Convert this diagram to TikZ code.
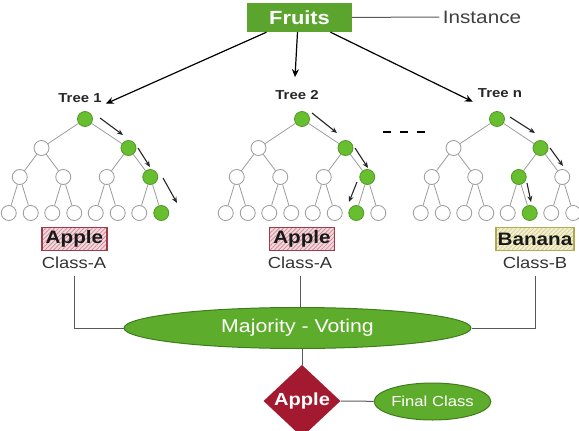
\documentclass[tikz,border=0pt]{standalone}
\usepackage{fontspec}
\setmainfont{Liberation Sans}[FakeStretch=1.15]
\usepackage{xcolor}
\usepackage{tikz}
\usetikzlibrary{arrows.meta}
\usetikzlibrary{patterns.meta}
\usetikzlibrary{shapes.geometric}
\tikzset{>={Stealth[length=8pt,width=7pt]}}
\definecolor{boxgreen}{HTML}{5BA52E}
\definecolor{ovalgreen}{HTML}{5EAC2C}
\definecolor{ovalline}{HTML}{3F7D1C}
\definecolor{nodegreen}{HTML}{67BE2F}
\definecolor{edgegray}{HTML}{9A9A9A}
\definecolor{applered}{HTML}{A3192F}
\definecolor{hatchred}{HTML}{9E3A4A}
\definecolor{hatchpink}{HTML}{F4D6DC}
\definecolor{hatcholive}{HTML}{B2AA52}
\definecolor{hatchcream}{HTML}{F4F0CC}

\begin{document}
\begin{tikzpicture}[
	x=1pt, y=-1pt,
	whitenode/.style = {
		circle, draw=edgegray, fill=white,
		line width=0.8pt,
		minimum size=15pt, inner sep=0pt
	},
	greennode/.style = {
		whitenode,
		draw=nodegreen!80!black, fill=nodegreen
	},
	branch/.style = {
		draw=edgegray, line width=0.8pt
	},
	walk/.style = {
		->, >={Stealth[length=6pt,width=5pt]},
		line width=1.1pt, black!85
	},
	link/.style = {
		draw=black!65, line width=1pt
	},
	treelabel/.style = {
		inner sep=1pt, text=black!85,
		font=\fontsize{13}{13}\selectfont\bfseries
	},
	resultbox/.style = {
		line width=1.3pt, inner sep=1pt,
		minimum height=23pt, text=black!90,
		font=\fontsize{18}{18}\selectfont\bfseries
	},
	applebox/.style = {
		resultbox, draw=hatchred,
		preaction={fill=hatchpink},
		pattern={Lines[angle=45,distance=3pt,line width=0.7pt]},
		pattern color=hatchred!60,
		minimum width=65pt
	},
	bananabox/.style = {
		resultbox, draw=hatcholive,
		preaction={fill=hatchcream},
		pattern={Lines[angle=45,distance=3pt,line width=0.7pt]},
		pattern color=hatcholive!60,
		minimum width=78pt
	},
	classtext/.style = {
		text=black!80,
		font=\fontsize{16}{16}\selectfont
	}
]
	\useasboundingbox (0, 0) rectangle (579, 431);
	% Instance
	\node[fill=boxgreen, text=white, minimum width=105pt, minimum height=29pt,
		font=\fontsize{19}{19}\selectfont\bfseries] (fruits) at (299.5, 17.5) {Fruits};
	\node[text=black!75, font=\fontsize{18}{18}\selectfont] (inst) at (482, 17) {Instance};
	\draw[link] (fruits) -- (inst);
	% Trees
	\node[treelabel] (lbl1) at (80, 98) {Tree 1};
	\node[treelabel] (lbl2) at (297, 95) {Tree 2};
	\node[treelabel] (lbln) at (500, 93) {Tree n};
	\draw[->, line width=1.2pt] ([xshift=-33pt]fruits.south) -- ([xshift=3pt]lbl1.south east);
	\draw[->, line width=1.2pt] ([xshift=-2pt]fruits.south) -- ([xshift=-2pt, yshift=12pt]lbl2.north);
	\draw[->, line width=1.2pt] ([xshift=31pt]fruits.south) -- ([xshift=-4pt, yshift=-3pt]lbln.south west);
	\foreach \t/\x/\ga/\gb/\gc in {1/85/2/4/8, 2/302/2/4/7, n/497/2/3/6} {
		\node[greennode] (t\t-r) at (\x, 119) {};
		\foreach \i in {1,2} {
			\ifnum\i=\ga\relax \def\st{greennode}\else \def\st{whitenode}\fi
			\node[\st] (t\t-a\i) at ({\x+(2*\i-3)*43.5}, 148) {};
			\draw[branch] (t\t-r) -- (t\t-a\i);
		}
		\foreach \j/\p in {1/1, 2/1, 3/2, 4/2} {
			\ifnum\j=\gb\relax \def\st{greennode}\else \def\st{whitenode}\fi
			\node[\st] (t\t-b\j) at ({\x+(\j-2.5)*43.5}, 177) {};
			\draw[branch] (t\t-a\p) -- (t\t-b\j);
		}
		\foreach \k/\p/\s in {1/1/-1, 2/1/1, 3/2/-1, 4/2/1, 5/3/-1, 6/3/1, 7/4/-1, 8/4/1} {
			\ifnum\k=\gc\relax \def\st{greennode}\else \def\st{whitenode}\fi
			\node[\st] (t\t-c\k) at ({\x+(\p-2.5)*43.5+(\s)*11}, 213) {};
			\draw[branch] (t\t-b\p) -- (t\t-c\k);
		}
	}
	% Decision paths
	\draw[walk] ([shift={(15,-1)}]t1-r.center) -- ([shift={(-5.5,-13)}]t1-a2.center);
	\draw[walk] ([shift={(9.5,0)}]t1-a2.center) -- ([shift={(-0.25,-10)}]t1-b4.center);
	\draw[walk] ([shift={(12.75,1)}]t1-b4.center) -- ([shift={(15.75,-10)}]t1-c8.center);
	\draw[walk] ([shift={(10,-6)}]t2-r.center) -- ([shift={(-8.5,-15)}]t2-a2.center);
	\draw[walk] ([shift={(9.5,0)}]t2-a2.center) -- ([shift={(0.75,-9)}]t2-b4.center);
	\draw[walk] ([shift={(-10.25,5)}]t2-b4.center) -- ([shift={(-7.25,-11)}]t2-c7.center);
	\draw[walk] ([shift={(13,-2)}]tn-r.center) -- ([shift={(-5.5,-15)}]tn-a2.center);
	\draw[walk] ([shift={(9.5,0)}]tn-a2.center) -- ([shift={(22.5,18)}]tn-a2.center);
	\draw[walk] ([shift={(8.25,6)}]tn-b3.center) -- ([shift={(1.25,-11)}]tn-c6.center);
	\draw[line width=1.8pt, dash pattern=on 8pt off 9pt] (383, 132) -- (425, 132);
	% Results
	\node[applebox] (res1) at (74.5, 239) {Apple};
	\node[applebox] (res2) at (302, 239) {Apple};
	\node[bananabox] (res3) at (535, 239) {Banana};
	\node[classtext] (cls1) at (74, 263) {Class-A};
	\node[classtext] (cls2) at (300, 263) {Class-A};
	\node[classtext] (cls3) at (535, 263) {Class-B};
	% Voting
	\node[ellipse, draw=ovalline, fill=ovalgreen, line width=1pt, inner sep=0pt,
		minimum width=347pt, minimum height=41pt, text=white,
		font=\fontsize{18.5}{19}\selectfont] (vote) at (297.5, 328) {Majority - Voting};
	\draw[link, shorten <=4pt] (cls1) |- (vote);
	\draw[link, shorten <=4pt] (cls3) |- (vote);
	\draw[link, shorten <=4pt] (cls2) -- (cls2 |- vote.north);
	\node[diamond, fill=applered, inner sep=0pt, minimum width=77pt, minimum height=58pt,
		text=white, font=\fontsize{17.5}{18}\selectfont\bfseries] (pick) at (302, 401) {Apple};
	\node[ellipse, draw=ovalline, fill=ovalgreen, line width=1pt, inner sep=0pt,
		minimum width=89pt, minimum height=37pt, text=white,
		font=\fontsize{14.5}{15}\selectfont] (final) at (432.5, 401.5) {Final Class};
	\draw[link] (pick |- vote.south) -- (pick);
	\draw[link] (pick) -- (final);
\end{tikzpicture}
\end{document}
